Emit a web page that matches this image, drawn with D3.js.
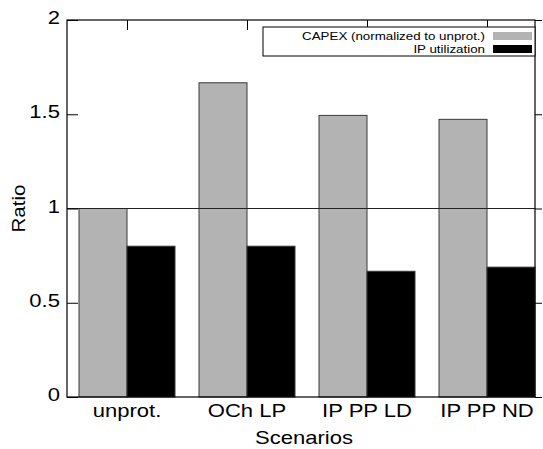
<!DOCTYPE html>
<html>
<head>
<meta charset="utf-8">
<script src="https://cdn.jsdelivr.net/npm/d3@7"></script>
<style>
  body { margin: 0; background: #fff; }
  svg { display: block; font-family: "Liberation Sans", Arial, sans-serif; }
</style>
</head>
<body>
<div id="chart"></div>
<script>
const categories = ["unprot.", "OCh LP", "IP PP LD", "IP PP ND"];
const capex = [1.0, 1.667, 1.494, 1.473];
const ipUtil = [0.8, 0.8, 0.667, 0.689];
const yTicks = [0, 0.5, 1, 1.5, 2];
const seriesNames = ["CAPEX (normalized to unprot.)", "IP utilization"];
const seriesColors = ["#b3b3b3", "#000000"];

const width = 543, height = 449;
const plot = { left: 67, right: 535, top: 20, bottom: 397 };
const barW = 0.4;
const stretch = 1.16; // text in the original is a bit wider than Arial

const svg = d3.select("#chart").append("svg")
  .attr("width", width)
  .attr("height", height);

const x = d3.scaleLinear().domain([-0.5, 3.4]).range([plot.left, plot.right]);
const y = d3.scaleLinear().domain([0, 2]).range([plot.bottom, plot.top]);

const series = [capex, ipUtil];

// draws a horizontally stretched text at (tx, ty)
function label(g, tx, ty, str, size, anchor) {
  return g.append("text")
    .attr("transform", `translate(${tx},${ty}) scale(${stretch},1)`)
    .attr("text-anchor", anchor)
    .attr("fill", "#000")
    .style("font-family", "'Liberation Sans', Arial, sans-serif")
    .style("font-size", size)
    .text(str);
}

// bars
series.forEach((vals, s) => {
  svg.append("g").selectAll("rect")
    .data(vals)
    .join("rect")
    .attr("x", (d, i) => x(i - barW + s * barW))
    .attr("y", d => y(d))
    .attr("width", x(barW) - x(0))
    .attr("height", d => y(0) - y(d))
    .attr("fill", seriesColors[s])
    .attr("stroke", "#3a3a3a")
    .attr("stroke-width", 1);
});

// reference line at 1
svg.append("line")
  .attr("x1", plot.left).attr("x2", plot.right)
  .attr("y1", y(1)).attr("y2", y(1))
  .attr("stroke", "#222").attr("stroke-width", 1);

// border
svg.append("rect")
  .attr("x", plot.left).attr("y", plot.top)
  .attr("width", plot.right - plot.left)
  .attr("height", plot.bottom - plot.top)
  .attr("fill", "none")
  .attr("stroke", "#000").attr("stroke-width", 1.2);

// left axis (inward ticks)
const gy = svg.append("g").attr("transform", `translate(${plot.left},0)`)
  .call(d3.axisLeft(y).tickValues(yTicks).tickSize(-11).tickFormat(""));
gy.select(".domain").remove();
yTicks.forEach(t => label(gy, -7, y(t) + 4, d3.format("~g")(t), "19px", "end"));

// right ticks (outward)
const gr = svg.append("g").attr("transform", `translate(${plot.right},0)`)
  .call(d3.axisRight(y).tickValues(yTicks).tickSize(7).tickFormat(""));
gr.select(".domain").remove();

// bottom category labels
const gx = svg.append("g");
categories.forEach((c, i) => label(gx, x(i), 417, c, "19px", "middle"));

// top mirrored ticks
const gt = svg.append("g").attr("transform", `translate(0,${plot.top})`)
  .call(d3.axisTop(x).tickValues(d3.range(categories.length)).tickSize(-10).tickFormat(""));
gt.select(".domain").remove();

// axis titles
svg.append("text")
  .attr("transform", `translate(25,${(plot.top + plot.bottom) / 2}) rotate(-90) scale(1.08,1)`)
  .attr("text-anchor", "middle")
  .style("font-size", "19px")
  .text("Ratio");

label(svg, (plot.left + plot.right) / 2 + 3, 444, "Scenarios", "19px", "middle");

// legend
const legend = svg.append("g");
legend.append("rect")
  .attr("x", 263).attr("y", 27)
  .attr("width", plot.right - 263).attr("height", 29)
  .attr("fill", "#fff").attr("stroke", "#000").attr("stroke-width", 1);

seriesNames.forEach((name, s) => {
  const cy = 36 + s * 13;
  label(legend, 485, cy + 4, name, "11.5px", "end");
  legend.append("rect")
    .attr("x", 493).attr("y", cy - 4)
    .attr("width", 39).attr("height", 8)
    .attr("fill", seriesColors[s]);
});
</script>
</body>
</html>
